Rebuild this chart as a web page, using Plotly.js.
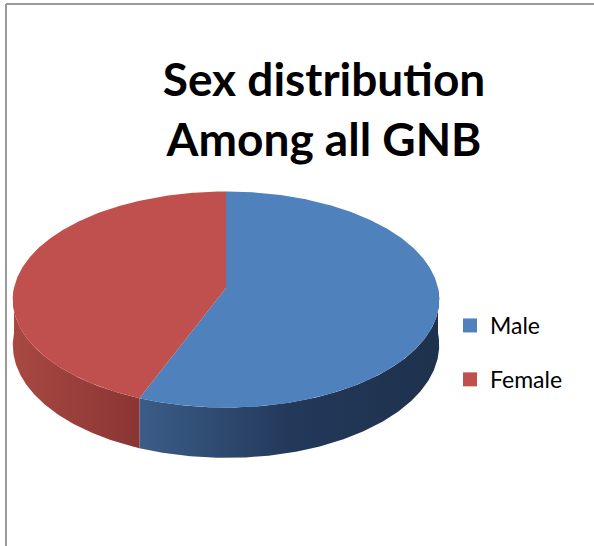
<!DOCTYPE html>
<html>
<head>
<meta charset="utf-8">
<script src="https://cdn.plot.ly/plotly-3.0.1.min.js"></script>
<style>html,body{margin:0;padding:0;background:#fff;}#chart{width:594px;height:546px;}</style>
</head>
<body>
<div id="chart"></div>
<script>
// ---- data ----
const categories = ['Male', 'Female'];
const values = [56, 44];
const topColors = ['#4F81BD', '#C0504D'];
const wallScales = [
  [[0, '#3B5D88'], [0.5, '#23395A'], [1, '#1E314D']],
  [[0, '#A94843'], [1, '#8A3533']]
];

// ---- 3D pie projection (pixel space via axes) ----
const cx = 226, cy = 288, R = 212, B = 106.8, K = 0.1065, H = 45;
function proj(deg, bottom) {
  const t = deg * Math.PI / 180;
  const u = Math.sin(t), v = Math.cos(t);
  const s = 1 / (1 + K * v);
  return [cx + R * u * s, cy - B * v * s + (bottom ? H * s : 0)];
}
function arc(a, b, bottom) {
  const pts = [];
  const n = Math.max(2, Math.ceil(Math.abs(b - a) / 0.5));
  for (let i = 0; i <= n; i++) pts.push(proj(a + (b - a) * i / n, bottom));
  return pts;
}

const total = values.reduce((p, c) => p + c, 0);
const walls = [], tops = [], legend = [];
let start = 0;
values.forEach((val, i) => {
  const end = start + val / total * 360;
  // visible outer wall (front half)
  const wa = Math.max(start, 90), wb = Math.min(end, 270);
  if (wb > wa) {
    const pts = arc(wa, wb, false).concat(arc(wb, wa, true));
    walls.push({
      type: 'scatter', mode: 'lines', fill: 'toself',
      x: pts.map(p => p[0]), y: pts.map(p => p[1]),
      line: {width: 0, color: 'rgba(0,0,0,0)'},
      fillgradient: {type: 'horizontal', colorscale: wallScales[i]},
      hoverinfo: 'skip', showlegend: false
    });
  }
  // top face
  const tp = [[cx, cy]].concat(arc(start, end, false));
  tp.push([cx, cy]);
  tops.push({
    type: 'scatter', mode: 'lines', fill: 'toself',
    x: tp.map(p => p[0]), y: tp.map(p => p[1]),
    line: {width: 0, color: 'rgba(0,0,0,0)'},
    fillcolor: topColors[i],
    name: categories[i], hoverinfo: 'name', showlegend: false
  });
  legend.push({
    type: 'scatter', mode: 'markers', x: [null], y: [null],
    name: categories[i], legendgroup: categories[i],
    marker: {symbol: 'square', size: 14, color: topColors[i]},
    showlegend: true
  });
  start = end;
});

const layout = {
  width: 594, height: 546,
  margin: {l: 0, r: 0, t: 0, b: 0},
  paper_bgcolor: '#ffffff', plot_bgcolor: '#ffffff',
  xaxis: {range: [0, 594], visible: false, fixedrange: true},
  yaxis: {range: [546, 0], visible: false, fixedrange: true},
  title: {
    text: 'Sex distribution<br>Among all GNB',
    font: {family: 'Lato, sans-serif', size: 46, weight: 700, color: '#000000'},
    x: 324 / 594, xanchor: 'center', xref: 'container',
    y: 1 - 96 / 546, yanchor: 'top', yref: 'container'
  },
  showlegend: true,
  legend: {
    x: 450 / 594, xanchor: 'left', y: 1 - 304 / 546, yanchor: 'top',
    font: {family: 'Lato, sans-serif', size: 23, color: '#000000'},
    bgcolor: 'rgba(0,0,0,0)', tracegroupgap: 21, itemwidth: 30
  },
  shapes: [
    {type: 'line', xref: 'x', yref: 'y', x0: 6, y0: 4, x1: 6, y1: 546, line: {color: '#9a9a9a', width: 2}},
    {type: 'line', xref: 'x', yref: 'y', x0: 6, y0: 4, x1: 594, y1: 4, line: {color: '#9a9a9a', width: 2}}
  ]
};

Plotly.newPlot('chart', walls.concat(tops).concat(legend), layout, {displayModeBar: false, staticPlot: true});
</script>
</body>
</html>
